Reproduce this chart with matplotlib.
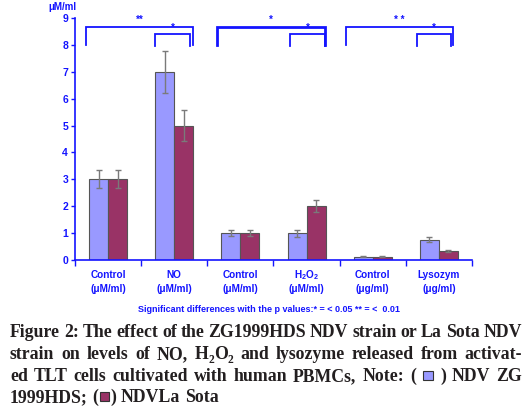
import matplotlib
matplotlib.use("Agg")
import matplotlib.pyplot as plt
from matplotlib.patches import Rectangle
from matplotlib.transforms import blended_transform_factory
import numpy as np

cat_names = ["Control", "NO", "Control", "H$_2$O$_2$", "Control", "Lysozym"]
cat_units = ["(\u03bcM/ml)", "(\u03bcM/ml)", "(\u03bcM/ml)", "(\u03bcM/ml)", "(\u03bcg/ml)", "(\u03bcg/ml)"]
zg_values = [3.0, 7.0, 1.0, 1.0, 0.12, 0.75]
zg_errors = [0.33, 0.78, 0.12, 0.13, 0.02, 0.09]
lasota_values = [3.0, 5.0, 1.0, 2.0, 0.12, 0.33]
lasota_errors = [0.33, 0.56, 0.12, 0.22, 0.02, 0.03]
yticks = list(range(0, 10))

# significance brackets: (x_left, x_right, y_top, y_bottom, label)
brackets = [(-0.33, 1.28, 8.68, 8.0, "**"), (0.71, 1.24, 8.40, 7.97, "*"),
            (1.65, 3.28, 8.68, 8.0, "*"), (2.75, 3.28, 8.40, 7.97, "*"),
            (3.59, 5.21, 8.68, 8.0, "* *"), (4.67, 5.19, 8.40, 7.97, "*")]

BLUE = "#1414ff"
C_ZG = "#9999ff"
C_LS = "#993366"
CAP = "#231f20"

plt.rcParams['mathtext.fontset'] = 'custom'
plt.rcParams['mathtext.rm'] = 'Liberation Sans:bold'
plt.rcParams['mathtext.it'] = 'Liberation Sans:bold'
plt.rcParams['mathtext.bf'] = 'Liberation Sans:bold'

W, H = 532, 409
fig = plt.figure(figsize=(W / 100, H / 100), dpi=100)
ax = fig.add_axes([75 / W, 1 - 260 / H, (472 - 75) / W, (260 - 18) / H])

x = np.arange(len(cat_names))
bw = 0.287
ax.bar(x - bw / 2, zg_values, bw, color=C_ZG, edgecolor="#555555", linewidth=0.8, zorder=2)
ax.bar(x + bw / 2, lasota_values, bw, color=C_LS, edgecolor="#555555", linewidth=0.8, zorder=2)
ax.errorbar(x - bw / 2, zg_values, yerr=zg_errors, fmt="none", ecolor="#7a7a7a",
            elinewidth=1, capsize=2, capthick=1, zorder=3)
ax.errorbar(x + bw / 2, lasota_values, yerr=lasota_errors, fmt="none", ecolor="#7a7a7a",
            elinewidth=1, capsize=2, capthick=1, zorder=3)

ax.set_xlim(-0.5, 5.5)
ax.set_ylim(0, 9)
for s in ["top", "right"]:
    ax.spines[s].set_visible(False)
for s in ["left", "bottom"]:
    ax.spines[s].set_color(BLUE)
    ax.spines[s].set_linewidth(1.2)
ax.set_yticks(yticks)
ax.set_yticklabels([str(v) for v in yticks], fontsize=7.5, fontweight="bold",
                   color=BLUE, family="Liberation Sans")
ax.tick_params(axis="y", colors=BLUE, length=3, width=1, pad=2)
ax.set_xticks(x)
ax.set_xticklabels([])
ax.tick_params(axis="x", length=0)
ax.set_xticks(np.arange(-0.5, 6.0, 1.0), minor=True)
ax.tick_params(axis="x", which="minor", length=4, width=1, color=BLUE)

tr = blended_transform_factory(ax.transData, fig.transFigure)
for i in range(len(cat_names)):
    ax.text(i, 1 - 275 / H, cat_names[i], transform=tr, ha="center", va="center",
            fontsize=7.2, fontweight="bold", color=BLUE, family="Liberation Sans")
    ax.text(i, 1 - 289 / H, cat_units[i], transform=tr, ha="center", va="center",
            fontsize=7.2, fontweight="bold", color=BLUE, family="Liberation Sans")

for (xl, xr, yt, yb, lab) in brackets:
    lw = 2.0 if (xl == 1.65) else 1.3
    ax.plot([xl, xl, xr, xr], [yb, yt, yt, yb], color=BLUE, lw=lw, clip_on=False,
            solid_joinstyle="miter")
    ax.text((xl + xr) / 2, yt + 0.05, lab, ha="center", va="bottom", color=BLUE,
            fontsize=7, fontweight="bold", family="Liberation Sans")

fig.text(62 / W, 1 - 7 / H, "\u03bcM/ml", ha="center", va="center", color=BLUE,
         fontsize=7, fontweight="bold", family="Liberation Sans")
fig.text(269 / W, 1 - 310 / H,
         "Significant differences with the p values:* = < 0.05 ** = <  0.01",
         ha="center", va="center", color=BLUE, fontsize=6.5, fontweight="bold",
         family="Liberation Sans")

# ---- caption with justification ----
cap_font = dict(family="Liberation Serif", fontweight="bold", color=CAP)
lines = [
    ("Figure 2: The effect of the ZG1999HDS NDV strain or La Sota NDV", True),
    ("strain on levels of NO, H|2|O|2| and lysozyme released from activat-", True),
    ("ed TLT cells cultivated with human PBMCs, Note: ( [B] ) NDV ZG", True),
    ("1999HDS; ([R]) NDVLa Sota", False),
]
baselines = [337, 359, 381, 402]
x0, x1 = 10, 522
fs = 12.8

fig.canvas.draw()
r = fig.canvas.get_renderer()

def parse_word(w):
    pieces = []
    if "[B]" in w or "[R]" in w:
        buf = ""
        i = 0
        while i < len(w):
            if w[i:i + 3] in ("[B]", "[R]"):
                if buf:
                    pieces.append(("t", buf)); buf = ""
                pieces.append(("box", C_ZG if w[i + 1] == "B" else C_LS))
                i += 3
            else:
                buf += w[i]; i += 1
        if buf:
            pieces.append(("t", buf))
        return pieces
    if "|" in w:
        parts = w.split("|")
        for k, p in enumerate(parts):
            if p:
                pieces.append(("s" if k % 2 == 1 else "t", p))
        return pieces
    return [("t", w)]

def make_piece(kind, val, size):
    if kind == "t":
        t = fig.text(0, 0, val, fontsize=size, va="baseline", ha="left", **cap_font)
        return t, t.get_window_extent(r).width
    if kind == "s":
        t = fig.text(0, 0, val, fontsize=size * 0.65, va="baseline", ha="left", **cap_font)
        return t, t.get_window_extent(r).width
    return val, size * 0.95

def measure_space(size):
    a = fig.text(0, 0, "a a", fontsize=size, **cap_font)
    b = fig.text(0, 0, "aa", fontsize=size, **cap_font)
    w = a.get_window_extent(r).width - b.get_window_extent(r).width
    a.remove(); b.remove()
    return w

sp = measure_space(fs)
for (line, justify), base in zip(lines, baselines):
    words = line.split(" ")
    built = []
    for w in words:
        ps = [make_piece(k, v, fs) + (k,) for k, v in parse_word(w)]
        built.append(ps)
    wsum = sum(p[1] for ps in built for p in ps)
    gap = (x1 - x0 - wsum) / (len(built) - 1) if justify else sp
    if justify and gap < sp * 0.6:
        gap = sp * 0.6
    cx = x0
    for ps in built:
        for obj, wdt, kind in ps:
            if kind == "t":
                obj.set_position((cx / W, 1 - base / H))
            elif kind == "s":
                obj.set_position((cx / W, 1 - (base + 4) / H))
            else:
                side = fs * 0.72
                off = (wdt - side) / 2
                fig.patches.append(Rectangle(((cx + off) / W, 1 - (base - 1) / H), side / W, side / H,
                                             transform=fig.transFigure, facecolor=obj,
                                             edgecolor="#333333", linewidth=0.8))
            cx += wdt
        cx += gap

fig.savefig("out.png", dpi=100)
